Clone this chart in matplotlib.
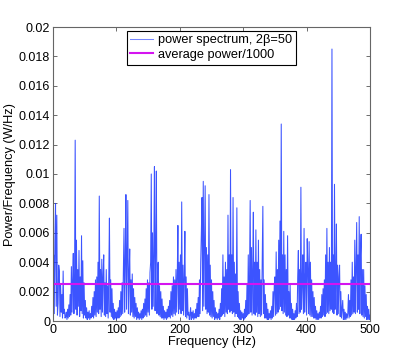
import numpy as np
import matplotlib
matplotlib.use("Agg")
import matplotlib.pyplot as plt

plt.rcParams['font.family'] = ['Liberation Sans', 'DejaVu Sans']

# power spectral density, one value per Hz (units of 1e-4 W/Hz)
freq_step = 1
psd_e4 = [
    30, 45, 5, 55, 80, 10, 72, 4, 12, 38,       # 0
    34, 3, 25, 6, 18, 2, 34, 5, 8, 2,           # 10
    3, 6, 1, 8, 2, 11, 3, 18, 4, 37,            # 20
    6, 28, 46, 5, 30, 123, 8, 55, 4, 35,        # 30
    10, 48, 3, 30, 7, 58, 5, 41, 2, 26,         # 40
    4, 14, 2, 9, 1, 6, 2, 7, 1, 5,              # 50
    2, 10, 3, 16, 2, 20, 4, 28, 3, 30,          # 60
    6, 40, 5, 85, 8, 35, 3, 42, 6, 30,          # 70
    45, 4, 26, 3, 35, 5, 24, 2, 30, 70,         # 80
    6, 28, 3, 22, 2, 12, 1, 8, 2, 6,            # 90
    1, 7, 2, 9, 2, 14, 3, 20, 4, 26,            # 100
    5, 32, 63, 6, 40, 86, 8, 45, 82, 5,         # 110
    30, 49, 4, 28, 6, 32, 3, 22, 2, 16,         # 120
    3, 12, 1, 9, 2, 6, 1, 5, 2, 7,              # 130
    1, 8, 2, 12, 3, 15, 4, 22, 3, 28,           # 140
    6, 26, 4, 33, 40, 100, 8, 60, 10, 45,       # 150
    105, 7, 50, 102, 5, 35, 40, 4, 24, 3,       # 160
    20, 2, 15, 2, 10, 1, 7, 2, 6, 1,            # 170
    8, 2, 10, 3, 14, 2, 20, 4, 24, 3,           # 180
    30, 5, 28, 4, 35, 6, 30, 65, 5, 40,         # 190
    8, 45, 5, 81, 7, 38, 4, 30, 61, 3,          # 200
    30, 2, 22, 4, 6, 1, 4, 9, 1, 6,             # 210
    2, 7, 1, 5, 2, 8, 2, 12, 3, 16,             # 220
    3, 28, 5, 40, 60, 84, 7, 95, 10, 50,        # 230
    92, 8, 50, 5, 45, 6, 86, 4, 38, 3,          # 240
    28, 2, 20, 3, 14, 1, 9, 2, 6, 1,            # 250
    5, 2, 8, 1, 12, 3, 22, 4, 45, 5,            # 260
    30, 3, 40, 6, 35, 5, 72, 8, 45, 6,          # 270
    103, 7, 45, 5, 84, 6, 40, 3, 32, 5,         # 280
    77, 3, 20, 2, 12, 1, 7, 1, 6, 2,            # 290
    5, 1, 8, 2, 14, 3, 25, 4, 45, 5,            # 300
    30, 82, 6, 50, 4, 35, 74, 5, 40, 4,         # 310
    62, 6, 40, 3, 55, 5, 35, 3, 28, 4,          # 320
    40, 78, 5, 28, 2, 18, 2, 12, 1, 8,          # 330
    1, 5, 2, 7, 1, 10, 2, 20, 3, 24,            # 340
    30, 4, 47, 5, 35, 6, 55, 8, 68, 10,         # 350
    134, 7, 45, 5, 61, 6, 45, 4, 35, 3,         # 360
    58, 4, 20, 2, 25, 2, 12, 1, 8, 1,           # 370
    5, 1, 7, 2, 12, 3, 30, 48, 5, 35,           # 380
    6, 91, 8, 25, 45, 5, 63, 6, 30, 40,         # 390
    4, 56, 35, 5, 54, 4, 40, 3, 28, 3,          # 400
    20, 2, 16, 2, 10, 1, 7, 1, 5, 1,            # 410
    6, 2, 10, 2, 18, 3, 22, 4, 28, 3,           # 420
    45, 5, 63, 6, 40, 5, 50, 7, 40, 8,          # 430
    185, 6, 45, 5, 93, 8, 28, 66, 4, 38,        # 440
    5, 30, 38, 3, 20, 2, 8, 14, 1, 8,           # 450
    1, 6, 1, 5, 2, 5, 18, 2, 14, 3,             # 460
    28, 4, 40, 5, 30, 6, 55, 5, 35, 67,         # 470
    6, 45, 8, 71, 5, 45, 59, 4, 35, 3,          # 480
    35, 2, 24, 3, 18, 1, 10, 1, 8, 1,           # 490
    4,                                          # 500
]
avg_power_over_1000 = 0.0025

series_labels = [u'power spectrum, 2\u03b2=50', 'average power/1000']
x_ticks = [0, 100, 200, 300, 400, 500]
y_ticks = [0, 0.002, 0.004, 0.006, 0.008, 0.01, 0.012, 0.014, 0.016, 0.018, 0.02]
y_tick_labels = ['0', '0.002', '0.004', '0.006', '0.008', '0.01',
                 '0.012', '0.014', '0.016', '0.018', '0.02']

psd = np.array(psd_e4) * 1e-4
freq = np.arange(len(psd)) * freq_step

fs = 9.2
fig = plt.figure(figsize=(4.09, 3.62), dpi=100)
ax = fig.add_axes([53 / 409, 1 - 321 / 362, 317 / 409, 294 / 362])

ax.plot(freq, psd, color='#1a36ff', linewidth=0.75, alpha=0.85, label=series_labels[0])
ax.axhline(avg_power_over_1000, color='#d414f0', linewidth=1.5, label=series_labels[1])

ax.set_xlim(0, 500)
ax.set_ylim(0, 0.02)
ax.set_xticks(x_ticks)
ax.set_yticks(y_ticks)
ax.set_yticklabels(y_tick_labels)
ax.tick_params(direction='in', top=True, right=True, labelsize=9,
               length=3, width=0.6, color='#555555', pad=2)
for s in ax.spines.values():
    s.set_color('#666666')
    s.set_linewidth(0.8)

ax.set_xlabel('Frequency (Hz)', fontsize=fs, labelpad=0)
ax.set_ylabel('Power/Frequency (W/Hz)', fontsize=fs, labelpad=2)

leg = ax.legend(loc='upper center', bbox_to_anchor=(0.5, 0.988), fontsize=fs,
                fancybox=False, framealpha=1, edgecolor='black',
                handlelength=1.8, handletextpad=0.4, borderpad=0.3,
                labelspacing=0.2, borderaxespad=0)
leg.get_frame().set_linewidth(0.8)
leg.get_lines()[0].set_alpha(0.6)

fig.savefig('out.png', dpi=100)
